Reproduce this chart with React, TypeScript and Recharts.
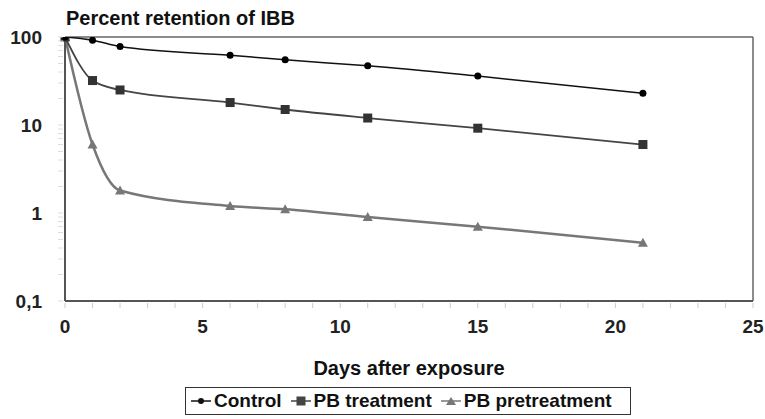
import {
  Legend,
  Line,
  LineChart,
  ReferenceLine,
  XAxis,
  YAxis,
} from "recharts";

const days = [0, 1, 2, 6, 8, 11, 15, 21];
const control = [100, 92, 78, 62, 55, 47, 36, 23];
const pbTreatment = [100, 32, 25, 18, 15, 12, 9.2, 6];
const pbPretreatment = [100, 6, 1.8, 1.2, 1.1, 0.9, 0.7, 0.46];

const xTicks = [0, 1, 2, 3, 4, 5, 6, 7, 8, 9, 10, 11, 12, 13, 14, 15, 16, 17, 18, 19, 20, 21, 22, 23, 24, 25];
const xLabelTicks = [0, 5, 10, 15, 20, 25];
const yTicks = [
  0.1, 0.2, 0.3, 0.4, 0.5, 0.6, 0.7, 0.8, 0.9,
  1, 2, 3, 4, 5, 6, 7, 8, 9,
  10, 20, 30, 40, 50, 60, 70, 80, 90,
  100,
];
const yLabelTicks = [0.1, 1, 10, 100];
const legendOrder = ["control", "pbTreatment", "pbPretreatment"];

const data = days.map((day, i) => ({
  day,
  control: control[i],
  pbTreatment: pbTreatment[i],
  pbPretreatment: pbPretreatment[i],
}));

const FONT = '"Liberation Sans", Arial, sans-serif';
const AXIS = "#555";

function XTick({ x, y, payload }: any) {
  const v = payload.value;
  return (
    <g>
      <line x1={x} x2={x} y1={y + 2} y2={y + 7} stroke="#ccc" />
      {xLabelTicks.includes(v) && (
        <text x={x} y={y + 32} textAnchor="middle" fontFamily={FONT} fontWeight="bold" fontSize={19} fill="#222">
          {v}
        </text>
      )}
    </g>
  );
}

function YTick({ x, y, payload }: any) {
  const v = payload.value;
  return (
    <g>
      <line x1={x - 7} x2={x - 2} y1={y} y2={y} stroke="#ddd" />
      {yLabelTicks.includes(v) && (
        <text x={x - 23} y={y + 7} textAnchor="end" fontFamily={FONT} fontWeight="bold" fontSize={19} fill="#222">
          {String(v).replace(".", ",")}
        </text>
      )}
    </g>
  );
}

const circleDot = (color: string) => (p: any) =>
  <circle key={p.key} cx={p.cx} cy={p.cy} r={3.5} fill={color} />;
const squareDot = (color: string) => (p: any) =>
  <rect key={p.key} x={p.cx - 4.5} y={p.cy - 4.5} width={9} height={9} fill={color} />;
const triDot = (color: string) => (p: any) =>
  <polygon key={p.key} points={`${p.cx - 5},${p.cy + 4} ${p.cx + 5},${p.cy + 4} ${p.cx},${p.cy - 5}`} fill={color} />;

const markerFor: Record<string, (c: string) => any> = {
  control: (c) => <circle cx={10} cy={7} r={3} fill={c} />,
  pbTreatment: (c) => <rect x={5.5} y={2.5} width={9} height={9} fill={c} />,
  pbPretreatment: (c) => <polygon points="5,11 15,11 10,3" fill={c} />,
};

function LegendBox({ payload }: any) {
  const items = [...(payload || [])].sort(
    (a: any, b: any) => legendOrder.indexOf(a.dataKey) - legendOrder.indexOf(b.dataKey)
  );
  return (
    <div
      style={{
        border: "1.5px solid #333",
        height: 28,
        width: 446,
        boxSizing: "border-box",
        display: "flex",
        alignItems: "center",
        paddingLeft: 5,
        fontFamily: FONT,
        fontWeight: "bold",
        fontSize: 19,
        color: "#111",
        background: "#fff",
      }}
    >
      {items.map((item: any) => (
        <div key={item.value} style={{ display: "flex", alignItems: "center", marginRight: 9 }}>
          <svg width={20} height={14} style={{ marginRight: 3 }}>
            <line x1={0} x2={20} y1={7} y2={7} stroke={item.color} strokeWidth={1.5} />
            {markerFor[item.dataKey](item.color)}
          </svg>
          <span>{item.value}</span>
        </div>
      ))}
    </div>
  );
}

export default function App() {
  return (
    <div style={{ position: "absolute", left: 0, top: 0, width: 765, height: 419, background: "#fff" }}>
      <div
        style={{
          position: "absolute",
          left: 66,
          top: 7,
          fontFamily: FONT,
          fontWeight: "bold",
          fontSize: 20,
          lineHeight: "22px",
          color: "#111",
        }}
      >
        Percent retention of IBB
      </div>
      <LineChart width={765} height={419} data={data} margin={{ top: 37, right: 12, bottom: 0, left: 0 }}>
        <XAxis
          dataKey="day"
          type="number"
          domain={[0, 25]}
          ticks={xTicks}
          interval={0}
          tick={<XTick />}
          tickLine={false}
          tickSize={0}
          tickMargin={0}
          height={118}
          axisLine={{ stroke: AXIS, strokeWidth: 2 }}
          label={({ viewBox }: any) => (
            <text
              x={viewBox.x + viewBox.width / 2}
              y={viewBox.y + 74}
              textAnchor="middle"
              fontFamily={FONT}
              fontWeight="bold"
              fontSize={20}
              fill="#111"
            >
              Days after exposure
            </text>
          )}
        />
        <YAxis
          type="number"
          scale="log"
          domain={[0.1, 100]}
          allowDataOverflow
          ticks={yTicks}
          interval={0}
          tick={<YTick />}
          tickLine={false}
          tickSize={0}
          tickMargin={0}
          width={65}
          axisLine={{ stroke: AXIS, strokeWidth: 2 }}
        />
        <ReferenceLine y={100} stroke="#666" strokeWidth={1.5} />
        <ReferenceLine x={25} stroke="#666" strokeWidth={1.5} />
        <Line
          dataKey="pbPretreatment"
          name="PB pretreatment"
          type="monotone"
          stroke="#777"
          strokeWidth={2.5}
          dot={triDot("#777")}
          activeDot={false}
          isAnimationActive={false}
        />
        <Line
          dataKey="pbTreatment"
          name="PB treatment"
          type="monotone"
          stroke="#444"
          strokeWidth={1.8}
          dot={squareDot("#333")}
          activeDot={false}
          isAnimationActive={false}
        />
        <Line
          dataKey="control"
          name="Control"
          type="monotone"
          stroke="#111"
          strokeWidth={1.5}
          dot={circleDot("#000")}
          activeDot={false}
          isAnimationActive={false}
        />
        <Legend
          layout="horizontal"
          verticalAlign="middle"
          align="center"
          content={(props: any) => <LegendBox payload={props.payload} />}
          wrapperStyle={{ left: 185, top: 387, width: 446, height: 28 }}
        />
      </LineChart>
    </div>
  );
}
